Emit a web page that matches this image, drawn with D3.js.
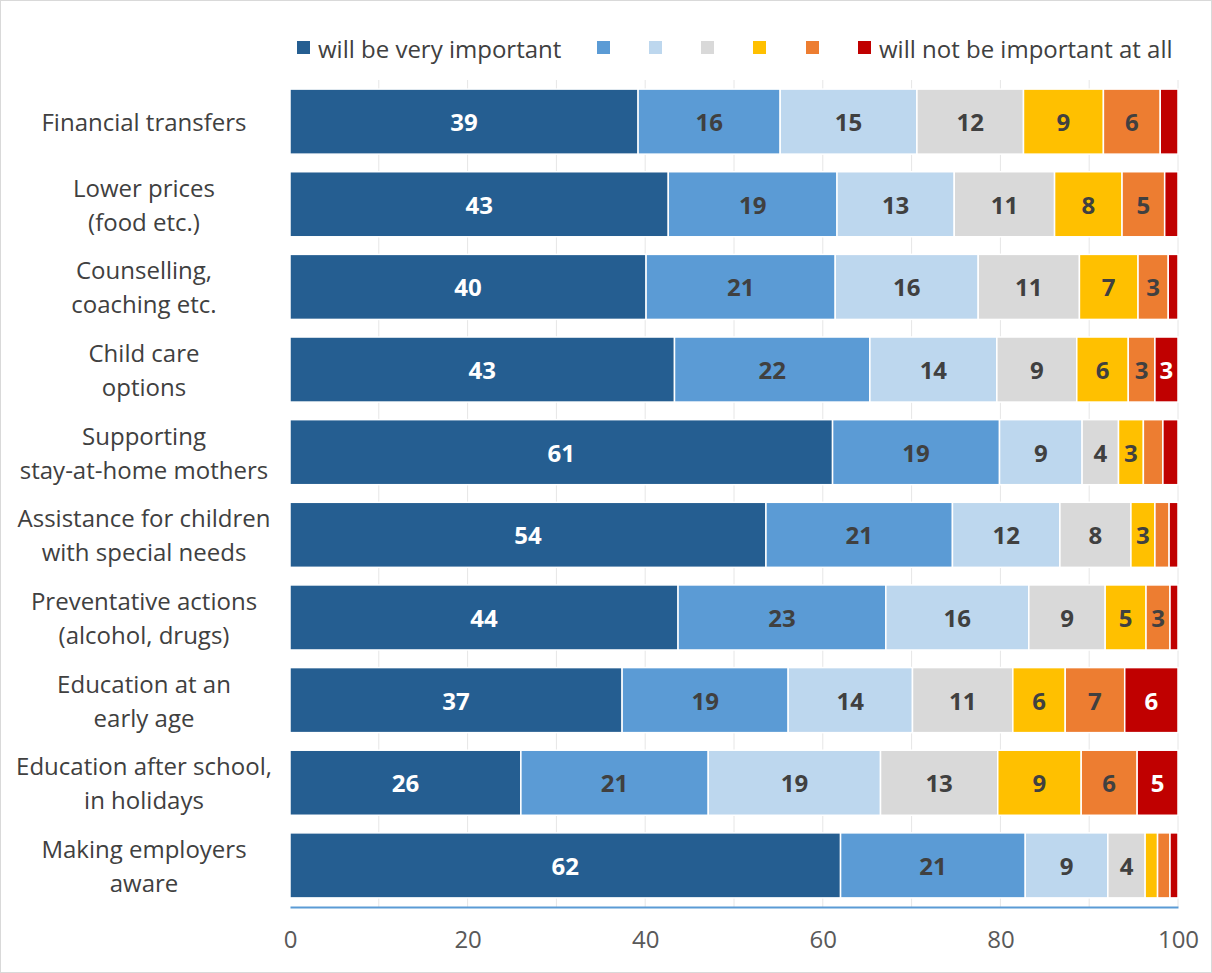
<!DOCTYPE html>
<html>
<head>
<meta charset="utf-8">
<script src="https://cdn.jsdelivr.net/npm/d3@7"></script>
<style>
  body { margin: 0; background: #fff; }
  svg text { font-family: "Open Sans", "DejaVu Sans", sans-serif; }
</style>
</head>
<body>
<svg id="chart" width="1212" height="973"></svg>
<script>
// categories, one entry per bar (lines of the label)
var categories = [
  ["Financial transfers"],
  ["Lower prices", "(food etc.)"],
  ["Counselling,", "coaching etc."],
  ["Child care", "options"],
  ["Supporting", "stay-at-home mothers"],
  ["Assistance for children", "with special needs"],
  ["Preventative actions", "(alcohol, drugs)"],
  ["Education at an", "early age"],
  ["Education after school,", "in holidays"],
  ["Making employers", "aware"]
];

// series values (share in %), one per category
var veryImportant = [39.2, 42.6, 40.1, 43.3, 61.1, 53.6, 43.7, 37.4, 26.0, 62.0];
var level2        = [16.0, 19.0, 21.3, 22.0, 18.8, 21.0, 23.4, 18.7, 21.1, 20.8];
var level3        = [15.4, 13.2, 16.1, 14.3,  9.3, 12.1, 16.1, 14.0, 19.4,  9.3];
var level4        = [12.0, 11.3, 11.4,  9.0,  4.1,  8.0,  8.6, 11.3, 13.2,  4.2];
var level5        = [ 9.0,  7.6,  6.6,  5.8,  2.8,  2.7,  4.6,  5.9,  9.4,  1.4];
var level6        = [ 6.4,  4.8,  3.4,  3.0,  2.2,  1.6,  2.7,  6.7,  6.3,  1.4];
var notImportant  = [ 2.0,  1.5,  1.1,  2.6,  1.7,  1.0,  0.9,  6.0,  4.6,  0.9];

var seriesNames = ["will be very important", "", "", "", "", "", "will not be important at all"];
var xTicks = [0, 20, 40, 60, 80, 100];

var colors = ["#255e91", "#5b9bd5", "#bdd7ee", "#d9d9d9", "#ffc000", "#ed7d31", "#c00000"];
var labelColors = ["#ffffff", "#404040", "#404040", "#404040", "#404040", "#404040", "#ffffff"];

var allSeries = [veryImportant, level2, level3, level4, level5, level6, notImportant];
var keys = d3.range(allSeries.length);

var rows = categories.map(function(c, i) {
  var r = { name: c.join(" ") };
  keys.forEach(function(k) { r[k] = allSeries[k][i]; });
  return r;
});

var svg = d3.select("#chart");

// outer border
svg.append("rect")
  .attr("x", 0.5).attr("y", 0.5)
  .attr("width", 1211).attr("height", 972)
  .attr("fill", "#fff")
  .attr("stroke", "#d9d9d9");

var x = d3.scaleLinear().domain([0, 100]).range([290, 1178]);
var y = d3.scaleBand()
  .domain(rows.map(function(d) { return d.name; }))
  .range([80, 907])
  .paddingInner(0.213)
  .paddingOuter(0.11);

// gridlines
svg.append("g")
  .selectAll("line")
  .data(d3.range(10, 101, 10))
  .enter().append("line")
  .attr("x1", function(d) { return x(d); })
  .attr("x2", function(d) { return x(d); })
  .attr("y1", 80)
  .attr("y2", 907)
  .attr("stroke", "#e6e6e6")
  .attr("stroke-width", 1);

var stack = d3.stack().keys(keys);
var stacked = stack(rows);

var layers = svg.append("g")
  .selectAll("g")
  .data(stacked)
  .enter().append("g")
  .attr("fill", function(d) { return colors[d.key]; });

layers.selectAll("rect")
  .data(function(d) { return d; })
  .enter().append("rect")
  .attr("x", function(d) { return x(d[0]); })
  .attr("y", function(d) { return y(d.data.name); })
  .attr("width", function(d) { return x(d[1]) - x(d[0]); })
  .attr("height", y.bandwidth())
  .attr("stroke", "#fff")
  .attr("stroke-width", 1.5);

// value labels
layers.selectAll("text")
  .data(function(d) { return d.map(function(p) { p.key = d.key; return p; }); })
  .enter()
  .filter(function(d) { return d[1] - d[0] >= 2.5; })
  .append("text")
  .attr("x", function(d) { return (x(d[0]) + x(d[1])) / 2; })
  .attr("y", function(d) { return y(d.data.name) + y.bandwidth() / 2; })
  .attr("text-anchor", "middle")
  .attr("dominant-baseline", "central")
  .attr("font-size", 24)
  .attr("font-weight", "bold")
  .attr("fill", function(d) { return labelColors[d.key]; })
  .text(function(d) { return Math.round(d[1] - d[0]); });

// bottom axis
var xAxis = d3.axisBottom(x).tickValues(xTicks).tickSize(0).tickPadding(24);
var ax = svg.append("g")
  .attr("transform", "translate(0,907)")
  .call(xAxis);
ax.select(".domain").attr("stroke", "#5b9bd5").attr("stroke-width", 2);
ax.selectAll("text")
  .attr("font-size", 24)
  .attr("fill", "#595959")
  .style("font-family", "'Open Sans', sans-serif");

// category labels
var catG = svg.append("g");
rows.forEach(function(r, i) {
  var lines = categories[i];
  var lh = 34;
  var cy = y(r.name) + y.bandwidth() / 2;
  var t = catG.append("text")
    .attr("text-anchor", "middle")
    .attr("font-size", 24)
    .attr("fill", "#404040");
  lines.forEach(function(l, j) {
    t.append("tspan")
      .attr("x", 144)
      .attr("y", cy + (j - (lines.length - 1) / 2) * lh)
      .attr("dominant-baseline", "central")
      .text(l);
  });
});

// legend
var legendX = [297, 597, 649, 701, 753, 806, 858];
var legend = svg.append("g")
  .selectAll("g")
  .data(keys)
  .enter().append("g")
  .attr("transform", function(d) { return "translate(" + legendX[d] + ",41)"; });
legend.append("rect")
  .attr("width", 13).attr("height", 13)
  .attr("fill", function(d) { return colors[d]; });
legend.append("text")
  .attr("x", 21)
  .attr("y", 7)
  .attr("dominant-baseline", "central")
  .attr("font-size", 24)
  .attr("fill", "#404040")
  .text(function(d) { return seriesNames[d]; });
</script>
</body>
</html>
